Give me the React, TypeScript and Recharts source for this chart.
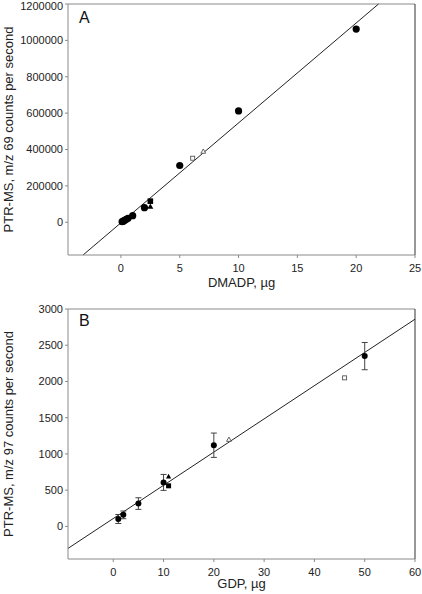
import {
  ErrorBar,
  ReferenceLine,
  Scatter,
  ScatterChart,
  XAxis,
  YAxis,
} from 'recharts';

// Panel A: DMADP calibration
const aCircleX = [0.1, 0.2, 0.3, 0.45, 0.6, 1, 2, 5, 10, 20];
const aCircleY = [3000, 6000, 10000, 16000, 22000, 36000, 80000, 312000, 612000, 1062000];
const aSquareFilled = [{ x: 2.5, y: 116000 }];
const aTriangleFilled = [{ x: 2.5, y: 87000 }];
const aSquareOpen = [{ x: 6.1, y: 352000 }];
const aTriangleOpen = [{ x: 7, y: 390000 }];
const aFitLine = [
  { x: -3.22, y: -180000 },
  { x: 21.9, y: 1200000 },
];
const aXTicks = [0, 5, 10, 15, 20, 25];
const aYTicks = [0, 200000, 400000, 600000, 800000, 1000000, 1200000];

// Panel B: GDP calibration
const bCircleX = [1, 2, 5, 10, 20, 50];
const bCircleY = [102, 159, 315, 607, 1120, 2350];
const bCircleErr = [62, 53, 80, 110, 168, 188];
const bSquareFilled = [{ x: 11, y: 560 }];
const bTriangleFilled = [{ x: 11, y: 690 }];
const bSquareOpen = [{ x: 46, y: 2050 }];
const bTriangleOpen = [{ x: 23, y: 1200 }];
const bFitLine = [
  { x: -9, y: -304 },
  { x: 60, y: 2859 },
];
const bXTicks = [0, 10, 20, 30, 40, 50, 60];
const bYTicks = [0, 500, 1000, 1500, 2000, 2500, 3000];

const aCircles = aCircleX.map((x, i) => ({ x, y: aCircleY[i] }));
const bCircles = bCircleX.map((x, i) => ({ x, y: bCircleY[i], err: bCircleErr[i] }));

const FONT = '"Liberation Sans", Arial, sans-serif';
const AXIS = '#8a8a8a';
const TXT = '#222';

const tickStyle = { fill: TXT, fontSize: 11, fontFamily: FONT };

// marker renderers, centred on the point the library computed
const dot = (r: number) => (p: any) => <circle cx={p.cx} cy={p.cy} r={r} fill='#000' />;
const square = (h: number, open: boolean) => (p: any) => (
  <rect
    x={p.cx - h}
    y={p.cy - h}
    width={h * 2}
    height={h * 2}
    fill={open ? '#fff' : '#000'}
    stroke={open ? '#555' : '#000'}
    strokeWidth={open ? 0.9 : 0}
  />
);
const triangle = (h: number, open: boolean) => (p: any) => (
  <polygon
    points={`${p.cx},${p.cy - h} ${p.cx + h},${p.cy + h * 0.8} ${p.cx - h},${p.cy + h * 0.8}`}
    fill={open ? '#fff' : '#000'}
    stroke={open ? '#555' : '#000'}
    strokeWidth={open ? 0.9 : 0}
  />
);

function panelLetter(letter: string, top: number) {
  return (
    <div
      style={{
        position: 'absolute',
        left: 79,
        top,
        fontSize: 16,
        lineHeight: '16px',
        fontFamily: FONT,
        color: '#111',
      }}
    >
      {letter}
    </div>
  );
}

function yLabel(text: string) {
  return {
    value: text,
    angle: -90,
    position: 'insideLeft' as const,
    offset: 8,
    fill: TXT,
    fontSize: 13,
    fontFamily: FONT,
    style: { textAnchor: 'middle' },
  };
}

export default function App() {
  return (
    <div
      style={{
        position: 'absolute',
        left: 0,
        top: 0,
        width: 422,
        height: 594,
        background: '#fff',
        fontFamily: FONT,
      }}
    >
      <div style={{ position: 'absolute', left: 0, top: 0 }}>
        <ScatterChart width={422} height={290} margin={{ top: 4, right: 7, bottom: 0, left: 0 }}>
          <XAxis
            type='number'
            dataKey='x'
            domain={[-4.5, 25]}
            ticks={aXTicks}
            allowDataOverflow
            height={35}
            tickSize={3}
            tickMargin={6}
            stroke={AXIS}
            tick={tickStyle}
            label={{ value: 'DMADP, µg', position: 'insideBottom', offset: 3, fill: TXT, fontSize: 13, fontFamily: FONT }}
          />
          <YAxis
            type='number'
            dataKey='y'
            domain={[-180000, 1200000]}
            ticks={aYTicks}
            allowDataOverflow
            width={68}
            tickSize={3}
            tickMargin={2}
            stroke={AXIS}
            tick={tickStyle}
            label={yLabel('PTR-MS, m/z 69 counts per second')}
          />
          <ReferenceLine y={1200000} stroke={AXIS} />
          <ReferenceLine x={25} stroke='#333' />
          <ReferenceLine segment={aFitLine} stroke='#222' strokeWidth={1} ifOverflow='visible' />
          <Scatter data={aCircles} shape={dot(3.6)} isAnimationActive={false} />
          <Scatter data={aSquareFilled} shape={square(2.8, false)} isAnimationActive={false} />
          <Scatter data={aTriangleFilled} shape={triangle(3, false)} isAnimationActive={false} />
          <Scatter data={aSquareOpen} shape={square(2, true)} isAnimationActive={false} />
          <Scatter data={aTriangleOpen} shape={triangle(2.4, true)} isAnimationActive={false} />
        </ScatterChart>
      </div>
      {panelLetter('A', 10)}

      <div style={{ position: 'absolute', left: 0, top: 290 }}>
        <ScatterChart width={422} height={304} margin={{ top: 19, right: 7, bottom: 0, left: 0 }}>
          <XAxis
            type='number'
            dataKey='x'
            domain={[-9, 60]}
            ticks={bXTicks}
            allowDataOverflow
            height={35}
            tickSize={3}
            tickMargin={6}
            stroke={AXIS}
            tick={tickStyle}
            label={{ value: 'GDP, µg', position: 'insideBottom', offset: 6, fill: TXT, fontSize: 13, fontFamily: FONT }}
          />
          <YAxis
            type='number'
            dataKey='y'
            domain={[-450, 3000]}
            ticks={bYTicks}
            allowDataOverflow
            width={68}
            tickSize={3}
            tickMargin={2}
            stroke={AXIS}
            tick={tickStyle}
            label={yLabel('PTR-MS, m/z 97 counts per second')}
          />
          <ReferenceLine y={3000} stroke={AXIS} />
          <ReferenceLine x={60} stroke='#333' />
          <ReferenceLine segment={bFitLine} stroke='#222' strokeWidth={1} ifOverflow='visible' />
          <Scatter data={bCircles} shape={dot(3)} isAnimationActive={false}>
            <ErrorBar dataKey='err' direction='y' width={3} stroke='#444' strokeWidth={1} isAnimationActive={false} />
          </Scatter>
          <Scatter data={bSquareFilled} shape={square(2.5, false)} isAnimationActive={false} />
          <Scatter data={bTriangleFilled} shape={triangle(2.6, false)} isAnimationActive={false} />
          <Scatter data={bSquareOpen} shape={square(2, true)} isAnimationActive={false} />
          <Scatter data={bTriangleOpen} shape={triangle(2.4, true)} isAnimationActive={false} />
        </ScatterChart>
      </div>
      {panelLetter('B', 313)}
    </div>
  );
}
